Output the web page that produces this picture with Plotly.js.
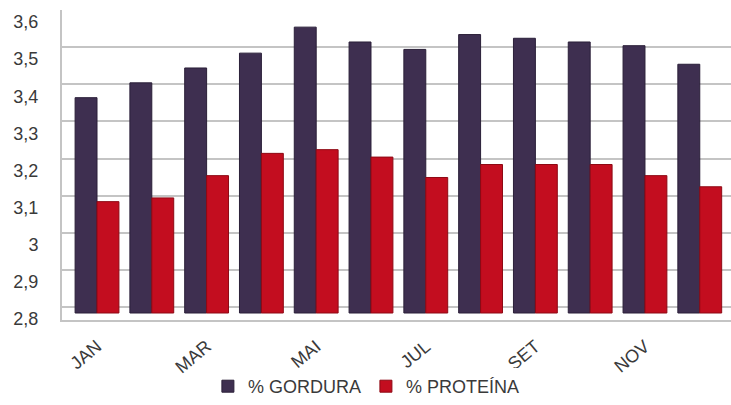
<!DOCTYPE html>
<html>
<head>
<meta charset="utf-8">
<script src="https://cdn.plot.ly/plotly-3.0.1.min.js"></script>
<style>html,body{margin:0;padding:0;background:#fff;}#chart{width:731px;height:405px;}</style>
</head>
<body>
<div id="chart"></div>
<script>
const months = ['JAN','FEV','MAR','ABR','MAI','JUN','JUL','AGO','SET','OUT','NOV','DEZ'];
const gordura = [3.38, 3.42, 3.46, 3.50, 3.57, 3.53, 3.51, 3.55, 3.54, 3.53, 3.52, 3.47];
const proteina = [3.10, 3.11, 3.17, 3.23, 3.24, 3.22, 3.165, 3.20, 3.20, 3.20, 3.17, 3.14];
const seriesNames = ['% GORDURA', '% PROTEÍNA'];
const xTickLabels = ['JAN','MAR','MAI','JUL','SET','NOV'];
const yTicks = [2.8, 2.9, 3.0, 3.1, 3.2, 3.3, 3.4, 3.5, 3.6];
const baseValue = 2.8;

const font = 'Liberation Sans, Arial, sans-serif';
const txt = '#3a3a3a';

// bars drawn from the axis floor (baseValue) up to each value
const heights = arr => arr.map(v => v - baseValue);

const traces = [
  {type:'scatter', x:[months[0]], y:[yTicks[0]], yaxis:'y', mode:'markers',
   marker:{opacity:0, size:1}, showlegend:false, hoverinfo:'skip'},
  {type:'bar', name: seriesNames[0], x: months, y: heights(gordura), base: baseValue, yaxis:'y2',
   marker:{color:'#3e2f50', line:{color:'#2a1f38', width:1}}},
  {type:'bar', name: seriesNames[1], x: months, y: heights(proteina), base: baseValue, yaxis:'y2',
   marker:{color:'#c30d1f', line:{color:'#8e0914', width:1}}},
  {type:'scatter', x:[months[0]], y:[yTicks[0]], yaxis:'y3', mode:'markers',
   marker:{opacity:0, size:1}, showlegend:false, hoverinfo:'skip'}
];

const layout = {
  width:731, height:405,
  margin:{l:62, r:0, t:10, b:85},
  paper_bgcolor:'#fff', plot_bgcolor:'rgba(0,0,0,0)',
  separators:',.',
  font:{family:font, color:txt},
  barmode:'group', bargap:0.2, bargroupgap:0,
  showlegend:true,
  legend:{orientation:'h', x:0.455, xanchor:'center', y:-0.215, yanchor:'middle',
          font:{size:18, color:txt, family:font}, itemwidth:30, traceorder:'normal'},
  xaxis:{type:'category', categoryorder:'array', categoryarray: months,
         range:[-0.639, 11.57], tickmode:'array', tickvals: xTickLabels, ticktext: xTickLabels,
         tickangle:-40, tickfont:{size:18, color:txt, family:font}, ticks:'',
         ticklabelstandoff:7,
         showgrid:false, zeroline:false, showline:true, linecolor:'#c4c4c4', linewidth:2, fixedrange:true},
  yaxis:{range:[2.764983, 3.6], tickmode:'array', tickvals: yTicks, showticklabels:false,
         showgrid:true, gridcolor:'#c4c4c4', gridwidth:2, zeroline:false, ticks:'', fixedrange:true},
  yaxis2:{overlaying:'y', range:[2.781145, 3.616162], showticklabels:false, ticks:'', showgrid:false, zeroline:false, showline:false, fixedrange:true},
  yaxis3:{overlaying:'y', side:'left', range:[2.797306, 3.632323], tickmode:'array', tickvals: yTicks,
          showgrid:false, zeroline:false, ticks:'', ticklabelstandoff:18,
          showline:true, linecolor:'#c4c4c4', linewidth:2,
          tickfont:{size:18, color:txt, family:font}, fixedrange:true}
};

Plotly.newPlot('chart', traces, layout, {displayModeBar:false, staticPlot:true});
</script>
</body>
</html>
